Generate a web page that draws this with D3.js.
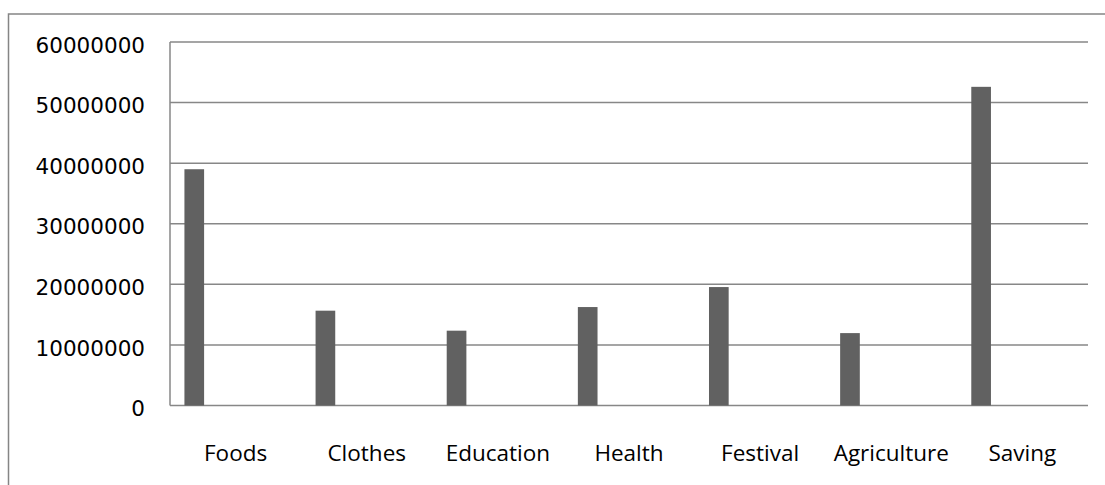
<!DOCTYPE html>
<html>
<head>
<meta charset="utf-8">
<script src="https://cdn.jsdelivr.net/npm/d3@7"></script>
<style>
  body { margin: 0; background: #fff; }
  .ylab { font-family: "DejaVu Sans", sans-serif; font-size: 21.5px; fill: #000; }
  .xlab { font-family: "Open Sans", sans-serif; font-size: 22.5px; fill: #000; }
</style>
</head>
<body>
<div id="chart"></div>
<script>
// data
var categories = ["Foods", "Clothes", "Education", "Health", "Festival", "Agriculture", "Saving"];
var values = [39000000, 15650000, 12350000, 16250000, 19550000, 11950000, 52600000];
var yTicks = [0, 10000000, 20000000, 30000000, 40000000, 50000000, 60000000];

var W = 1105, H = 485;
var margin = {top: 42, right: 17, bottom: 79.5, left: 170},
    width = W - margin.left - margin.right,
    height = H - margin.top - margin.bottom;

var svg = d3.select("#chart").append("svg")
    .attr("width", W)
    .attr("height", H);

// outer chart border (runs off the right and bottom edges)
svg.append("rect")
    .attr("x", 8.5).attr("y", 14)
    .attr("width", W + 20).attr("height", H + 20)
    .attr("fill", "none")
    .attr("stroke", "#858585")
    .attr("stroke-width", 1.5);

var g = svg.append("g")
    .attr("transform", "translate(" + margin.left + "," + margin.top + ")");

// scales
var x = d3.scaleBand()
    .domain(categories)
    .range([0, width]);

var y = d3.scaleLinear()
    .domain([0, 60000000])
    .range([height, 0]);

// gridlines
g.selectAll(".grid")
    .data(yTicks)
    .enter().append("line")
    .attr("class", "grid")
    .attr("x1", 0).attr("x2", width)
    .attr("y1", function(d) { return y(d); })
    .attr("y2", function(d) { return y(d); })
    .attr("stroke", "#878787")
    .attr("stroke-width", 1.5);

// left axis line
g.append("line")
    .attr("x1", 0).attr("x2", 0)
    .attr("y1", 0).attr("y2", height)
    .attr("stroke", "#878787")
    .attr("stroke-width", 1.5);

// y labels
g.selectAll(".ylab")
    .data(yTicks)
    .enter().append("text")
    .attr("class", "ylab")
    .attr("x", -25)
    .attr("y", function(d) { return y(d) + 3; })
    .attr("dy", "0.36em")
    .attr("text-anchor", "end")
    .text(function(d) { return d; });

// bars, sitting at the left of each category band
var barOff = x.bandwidth() * 0.11,
    barW = x.bandwidth() * 0.15;

g.selectAll(".bar")
    .data(values)
    .enter().append("rect")
    .attr("class", "bar")
    .attr("x", function(d, i) { return x(categories[i]) + barOff; })
    .attr("y", function(d) { return y(d); })
    .attr("width", barW)
    .attr("height", function(d) { return height - y(d); })
    .attr("fill", "#616161");

// x labels
g.selectAll(".xlab")
    .data(categories)
    .enter().append("text")
    .attr("class", "xlab")
    .attr("x", function(d) { return x(d) + x.bandwidth() / 2; })
    .attr("y", height + 55)
    .attr("text-anchor", "middle")
    .text(function(d) { return d; });
</script>
</body>
</html>
